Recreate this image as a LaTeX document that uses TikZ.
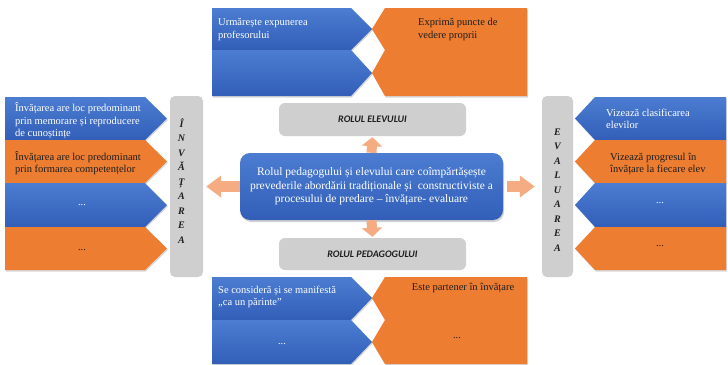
\documentclass[tikz,border=0pt]{standalone}
\usepackage{fontspec}
\setmainfont{Liberation Serif}
\newfontfamily\capsfont{Carlito}
\usetikzlibrary{arrows.meta,shadows}

\definecolor{blueTop}{RGB}{76,125,210}
\definecolor{blueBot}{RGB}{50,94,184}
\definecolor{orangeC}{RGB}{237,125,49}
\definecolor{panelGray}{RGB}{208,207,207}
\definecolor{arrowC}{RGB}{245,172,130}
\definecolor{darkText}{RGB}{30,30,30}

\tikzset{
  softshadow/.style={drop shadow={opacity=0.3, shadow xshift=0.8pt, shadow yshift=-1.5pt}},
  bluepart/.style={top color=blueTop, bottom color=blueBot, draw=none, softshadow},
  orangepart/.style={fill=orangeC, draw=none, softshadow},
  itemtext/.style={font=\fontsize{10.5}{12.5}\selectfont, inner sep=0pt, align=left, anchor=west},
  onblue/.style={itemtext, text=white},
  onorange/.style={itemtext, text=darkText},
  dotsblue/.style={font=\fontsize{10.5}{12.5}\selectfont, inner sep=0pt, text=white},
  dotsorange/.style={font=\fontsize{10.5}{12.5}\selectfont, inner sep=0pt, text=darkText},
  sidebar/.style={fill=panelGray, rounded corners=5pt, draw=none, inner sep=0pt},
  rolebox/.style={fill=panelGray, rounded corners=6pt, draw=none, inner sep=0pt,
    font=\capsfont\bfseries\itshape\fontsize{10}{12}\selectfont, text=darkText},
  vword/.style={font=\bfseries\itshape\fontsize{10}{14.5}\selectfont, align=center,
    inner sep=0pt, text=darkText},
  corebox/.style={rounded corners=10pt, top color=blueTop, bottom color=blueBot, draw=none,
    drop shadow={opacity=0.35, shadow xshift=1pt, shadow yshift=-2pt},
    text=white, align=center, inner sep=0pt, font=\fontsize{11.5}{13.5}\selectfont},
  flow/.style={draw=arrowC, line width=10pt, -{Triangle[length=9pt,width=20pt]}},
  flowwide/.style={draw=arrowC, line width=11pt, -{Triangle[length=15pt,width=21pt]}},
}

\begin{document}
\begin{tikzpicture}[x=1pt,y=-1pt]
\useasboundingbox[fill=white] (0,0) rectangle (728,364);

% ---- top group: learner's role ----
\path[bluepart] (212,8) -- (351,8) -- (372,29) -- (351,50) -- (212,50) -- cycle;
\path[bluepart] (212,50) -- (351,50) -- (372,73) -- (351,96) -- (212,96) -- cycle;
\path[orangepart] (385,8) -- (527,8) -- (527,50) -- (385,50) -- (372,29) -- cycle;
\path[orangepart] (385,50) -- (527,50) -- (527,96) -- (385,96) -- (372,73) -- cycle;
\node[onblue] (t1) at (218,29.5) {Urmărește expunerea\\profesorului};
\node[onorange] (t2) at (418,29.5) {Exprimă puncte de\\vedere proprii};

% ---- bottom group: teacher's role ----
\path[bluepart] (212,277) -- (351,277) -- (372,298) -- (351,320) -- (212,320) -- cycle;
\path[bluepart] (212,320) -- (351,320) -- (372,342) -- (351,364) -- (212,364) -- cycle;
\path[orangepart] (385,277) -- (527,277) -- (527,320) -- (385,320) -- (372,298) -- cycle;
\path[orangepart] (385,320) -- (527,320) -- (527,364) -- (385,364) -- (372,342) -- cycle;
\node[onblue] (b1) at (218,297) {Se consideră și se manifestă\\„ca un părinte”};
\node[dotsorange] (b2) at (463,288) {Este partener în învățare};
\node[dotsblue] (b3) at (282,344) {...};
\node[dotsorange] (b4) at (457,338) {...};

% ---- left group: learning ----
\path[bluepart] (5,97) -- (145,97) -- (167,118.5) -- (145,140) -- (5,140) -- cycle;
\path[orangepart] (5,140) -- (145,140) -- (167,161.5) -- (145,183) -- (5,183) -- cycle;
\path[bluepart] (5,183) -- (145,183) -- (167,205) -- (145,227) -- (5,227) -- cycle;
\path[orangepart] (5,227) -- (145,227) -- (167,248.5) -- (145,270) -- (5,270) -- cycle;
\node[onblue] (l1) at (15,121) {Învățarea are loc predominant\\prin memorare și reproducere\\de cunoștințe};
\node[onorange] (l2) at (15,163) {Învățarea are loc predominant\\prin formarea competențelor};
\node[dotsblue] (l3) at (82,205) {...};
\node[dotsorange] (l4) at (82,250) {...};

% ---- right group: assessment ----
\path[bluepart] (595,97) -- (726,97) -- (726,140) -- (595,140) -- (575,118.5) -- cycle;
\path[orangepart] (595,140) -- (726,140) -- (726,183) -- (595,183) -- (575,161.5) -- cycle;
\path[bluepart] (595,183) -- (726,183) -- (726,227) -- (595,227) -- (575,205) -- cycle;
\path[orangepart] (595,227) -- (726,227) -- (726,270) -- (595,270) -- (575,248.5) -- cycle;
\node[onblue] (r1) at (606,119) {Vizează clasificarea\\elevilor};
\node[onorange] (r2) at (610,164) {Vizează progresul în\\învățare la fiecare elev};
\node[dotsblue] (r3) at (660,203) {...};
\node[dotsorange] (r4) at (660,246) {...};

% ---- side bars with vertical words ----
\node[sidebar, minimum width=33pt, minimum height=181pt] (lbar) at (186.5,186.5) {};
\node[sidebar, minimum width=31pt, minimum height=181pt] (rbar) at (557.5,186.5) {};
\node[vword] (lword) at (181.5,181) {Î\\N\\V\\Ă\\Ț\\A\\R\\E\\A};
\node[vword] (rword) at (557.5,190) {E\\V\\A\\L\\U\\A\\R\\E\\A};

% ---- role boxes ----
\node[rolebox, minimum width=187pt, minimum height=33pt] (elev) at (372.5,119.5) {ROLUL ELEVULUI};
\node[rolebox, minimum width=187pt, minimum height=32pt] (ped) at (372.5,254) {ROLUL PEDAGOGULUI};

% ---- central box ----
\node[corebox, minimum width=263pt, minimum height=67pt] (core) at (371.5,186.5)
  {Rolul pedagogului și elevului care coîmpărtășește\\prevederile abordării tradiționale și \ constructiviste a\\procesului de predare – învățare- evaluare};

% ---- block arrows ----
\draw[flow, shorten >=1pt] (core.north) -- (elev.south);
\draw[flow, shorten >=1pt] (core.south) -- (ped.north);
\draw[flowwide, shorten >=3pt] (core.west) -- (core.west -| lbar.east);
\draw[flowwide, shorten <=4pt, shorten >=7pt] (core.east) -- (core.east -| rbar.west);
\end{tikzpicture}
\end{document}
